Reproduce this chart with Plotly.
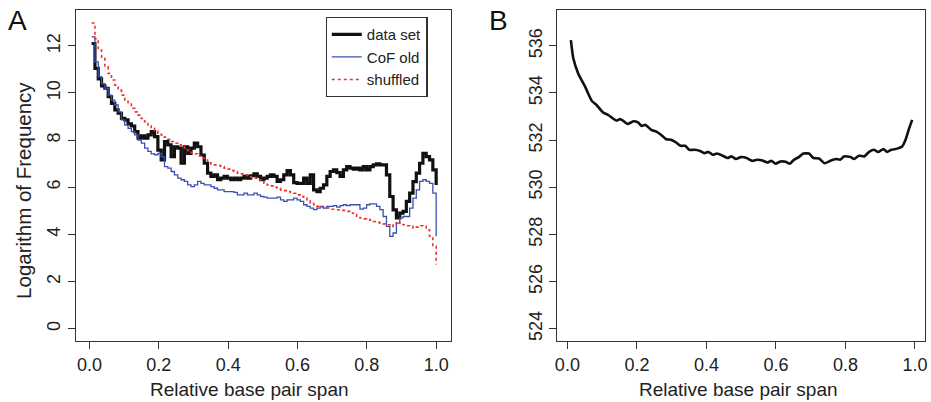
import numpy as np
import plotly.graph_objects as go

# ---- Panel A data (log frequency per relative-span bin) ----
data_set = [12.1, 11.04, 10.6, 10.3, 10.2, 9.84, 9.56, 9.28, 9.14, 8.92,
            8.86, 8.69, 8.6, 8.36, 8.08, 8.18, 8.08, 8.22, 8.36, 8.15,
            7.58, 7.16, 7.94, 7.8, 7.3, 7.72, 7.66, 7.02, 7.72, 7.44,
            7.66, 7.87, 7.72, 7.37, 7.02, 6.6, 6.46, 6.53, 6.32, 6.39,
            6.46, 6.39, 6.32, 6.39, 6.32, 6.39, 6.46, 6.39, 6.49, 6.57,
            6.46, 6.32, 6.39, 6.46, 6.53, 6.46, 6.25, 6.32, 6.53, 6.71,
            6.53, 6.2, 6.17, 6.17, 6.39, 6.17, 6.53, 5.89, 5.82, 5.96,
            6.1, 6.46, 6.67, 6.74, 6.62, 6.46, 6.74, 6.88, 6.81, 6.77,
            6.81, 6.74, 6.88, 6.74, 6.88, 6.95, 6.99, 6.95, 6.95, 6.53,
            5.61, 5.04, 4.7, 4.9, 4.98, 5.4, 5.75, 6.24, 6.6, 7.02,
            7.44, 7.3, 7.16, 6.74, 6.1]

cof_old = [12.38, 11.32, 10.69, 10.4, 10.2, 9.91, 9.7, 9.49, 9.2, 8.86,
           8.64, 8.5, 8.36, 8.22, 8.0, 7.87, 7.66, 7.52, 7.42, 7.38,
           7.44, 7.3, 6.88, 6.81, 6.67, 6.53, 6.39, 6.32, 6.25, 6.1,
           6.03, 6.1, 6.25, 6.17, 6.1, 6.1, 6.03, 5.96, 5.89, 5.89,
           5.82, 5.82, 5.82, 5.78, 5.68, 5.68, 5.75, 5.68, 5.68, 5.75,
           5.68, 5.61, 5.58, 5.54, 5.54, 5.54, 5.58, 5.47, 5.4, 5.47,
           5.47, 5.54, 5.47, 5.4, 5.26, 5.19, 5.12, 5.05, 5.12, 5.19,
           5.12, 5.19, 5.19, 5.22, 5.16, 5.22, 5.26, 5.22, 5.26, 5.26,
           5.26, 5.07, 5.12, 5.26, 5.3, 5.3, 5.19, 5.05, 4.76, 4.34,
           3.92, 4.06, 4.48, 4.7, 4.76, 4.76, 5.12, 5.54, 5.89, 6.25,
           6.32, 6.25, 6.17, 5.75, 3.92]

shuffled = [12.97, 12.3, 11.82, 11.47, 11.11, 10.83, 10.55, 10.33, 10.12, 9.91,
            9.7, 9.53, 9.35, 9.2, 9.06, 8.92, 8.78, 8.64, 8.5, 8.39,
            8.29, 8.22, 8.12, 8.04, 7.94, 7.87, 7.8, 7.72, 7.66, 7.56,
            7.47, 7.42, 7.33, 7.23, 7.16, 7.05, 6.99, 6.95, 6.92, 6.88,
            6.81, 6.77, 6.71, 6.67, 6.6, 6.57, 6.53, 6.49, 6.43, 6.39,
            6.32, 6.25, 6.17, 6.1, 6.06, 6.0, 5.96, 5.89, 5.86, 5.82,
            5.78, 5.75, 5.68, 5.61, 5.54, 5.47, 5.33, 5.26, 5.19, 5.16,
            5.12, 5.12, 5.07, 5.07, 5.05, 5.02, 5.02, 4.98, 4.91, 4.84,
            4.76, 4.7, 4.66, 4.63, 4.6, 4.55, 4.51, 4.48, 4.45, 4.41,
            4.34, 4.45, 4.55, 4.48, 4.41, 4.37, 4.34, 4.27, 4.31, 4.37,
            4.34, 4.2, 3.92, 3.5, 2.72]

# ---- Panel B data ----
span_b = [0.010, 0.017, 0.031, 0.051, 0.070, 0.084, 0.103, 0.117, 0.141, 0.151,
          0.160, 0.173, 0.191, 0.203, 0.214, 0.224, 0.241, 0.255, 0.270, 0.284,
          0.298, 0.313, 0.325, 0.339, 0.351, 0.366, 0.380, 0.394, 0.406, 0.418,
          0.430, 0.447, 0.461, 0.472, 0.485, 0.499, 0.516, 0.532, 0.546, 0.561,
          0.575, 0.587, 0.599, 0.613, 0.628, 0.640, 0.652, 0.666, 0.679, 0.695,
          0.708, 0.724, 0.740, 0.756, 0.772, 0.785, 0.796, 0.814, 0.825, 0.839,
          0.854, 0.868, 0.882, 0.894, 0.909, 0.920, 0.932, 0.949, 0.963, 0.973,
          0.982, 0.992]
value_b = [536.24, 535.47, 534.83, 534.27, 533.67, 533.49, 533.17, 533.07, 532.83, 532.89,
           532.83, 532.69, 532.80, 532.75, 532.60, 532.65, 532.44, 532.37, 532.22, 532.04,
           532.02, 531.90, 531.76, 531.76, 531.59, 531.59, 531.55, 531.45, 531.50, 531.38,
           531.43, 531.34, 531.24, 531.31, 531.20, 531.28, 531.24, 531.12, 531.17, 531.14,
           531.05, 531.12, 531.00, 531.09, 531.08, 531.00, 531.17, 531.28, 531.43, 531.43,
           531.24, 531.22, 531.02, 531.12, 531.20, 531.17, 531.31, 531.29, 531.20, 531.34,
           531.31, 531.50, 531.59, 531.50, 531.62, 531.50, 531.59, 531.64, 531.73, 532.02,
           532.44, 532.86]

x_ticks = [0.0, 0.2, 0.4, 0.6, 0.8, 1.0]
x_ticktext = ["0.0", "0.2", "0.4", "0.6", "0.8", "1.0"]
y_ticks_a = [0, 2, 4, 6, 8, 10, 12]
y_ticks_b = [524, 526, 528, 530, 532, 534, 536]

W, H = 931, 402
FONT = "Liberation Sans, Arial, sans-serif"
FRAME = "#333333"


def grid(vals):
    return np.linspace(0.006, 1.0, len(vals))


fig = go.Figure()
fig.add_trace(go.Scatter(x=grid(data_set), y=data_set, mode="lines", line_shape="hv",
                         name="data set", line=dict(color="#111111", width=3.2)))
fig.add_trace(go.Scatter(x=grid(cof_old), y=cof_old, mode="lines", line_shape="hv",
                         name="CoF old", line=dict(color="#3a4fb3", width=1.3)))
fig.add_trace(go.Scatter(x=grid(shuffled), y=shuffled, mode="lines", line_shape="hv",
                         name="shuffled", line=dict(color="#e8332a", width=1.6, dash="dot")))
fig.add_trace(go.Scatter(x=span_b, y=value_b, mode="lines", showlegend=False,
                         line=dict(color="#111111", width=2.6, shape="spline", smoothing=0.5),
                         xaxis="x2", yaxis="y2"))

axis_common = dict(showline=True, mirror=True, linecolor=FRAME, linewidth=1.3,
                   ticks="outside", ticklen=7, tickwidth=1.3, tickcolor=FRAME,
                   showgrid=False, zeroline=False,
                   tickfont=dict(family=FONT, size=18, color="#222222"))

ydom = [(H - 341) / H, (H - 10) / H]
fig.update_layout(
    width=W, height=H, margin=dict(l=0, r=0, t=0, b=0),
    paper_bgcolor="white", plot_bgcolor="white",
    font=dict(family=FONT, color="#222222"),
    xaxis=dict(domain=[74 / W, 451 / W], range=[-0.04, 1.043],
               tickvals=x_ticks, ticktext=x_ticktext, **axis_common),
    yaxis=dict(domain=ydom, range=[-0.52, 13.52], tickvals=y_ticks_a,
               tickangle=-90, **axis_common),
    xaxis2=dict(domain=[557.7 / W, 927 / W], range=[-0.029, 1.029], anchor="y2",
                tickvals=x_ticks, ticktext=x_ticktext, **axis_common),
    yaxis2=dict(domain=ydom, range=[523.48, 537.52], anchor="x2", tickvals=y_ticks_b,
                tickangle=-90, **axis_common),
    legend=dict(x=325 / W, y=1 - 17 / H, xanchor="left", yanchor="top",
                bordercolor=FRAME, borderwidth=1.2, bgcolor="white",
                font=dict(family=FONT, size=15, color="#222222"),
                itemwidth=30, tracegroupgap=0, entrywidth=76),
    showlegend=True,
)

annots = [
    dict(text="Relative base pair span", x=249 / W, y=1 - 389 / H, size=19),
    dict(text="Relative base pair span", x=740 / W, y=1 - 389 / H, size=19),
    dict(text="Logarithm of Frequency", x=22 / W, y=1 - 190 / H, textangle=-90, size=20.5),
]
for a in annots:
    sz = a.pop("size")
    fig.add_annotation(xref="paper", yref="paper", showarrow=False,
                       xanchor="center", yanchor="middle",
                       font=dict(family=FONT, size=sz, color="#222222"), **a)
for lbl, px in [("A", 16), ("B", 499)]:
    fig.add_annotation(text=lbl, xref="paper", yref="paper", x=px / W, y=1 - 20 / H,
                       showarrow=False, xanchor="center", yanchor="middle",
                       font=dict(family=FONT, size=28, color="#111111"))

fig.write_html("out.html")
